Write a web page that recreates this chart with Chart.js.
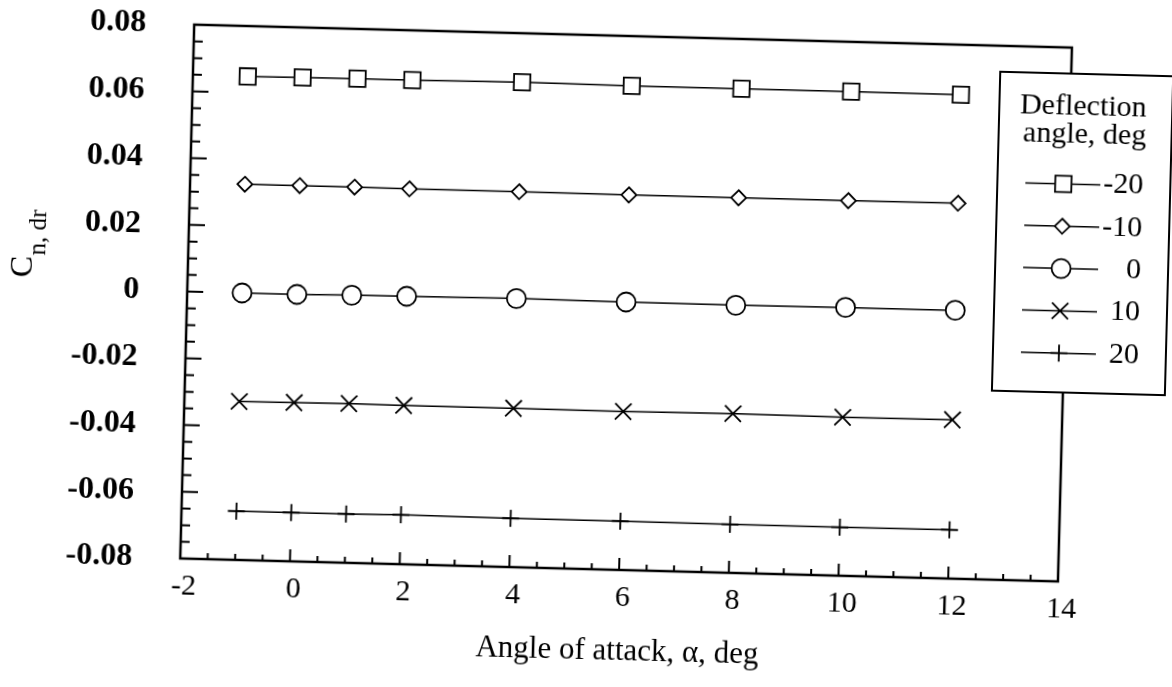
<!DOCTYPE html>
<html>
<head>
<meta charset="utf-8">
<title>Cn,dr vs angle of attack</title>
<script src="https://cdn.jsdelivr.net/npm/chart.js@4.4.1/dist/chart.umd.min.js"></script>
<style>
  html, body { margin: 0; padding: 0; background: #fff; overflow: hidden; }
  /* la figura escaneada esta ligeramente girada */
  #wrap { width: 1172px; height: 687px; transform: rotate(1.5deg); }
</style>
</head>
<body>
<div id="wrap"><canvas id="grafico" width="1172" height="687"></canvas></div>
<script>
const alpha = [-1, 0, 1, 2, 4, 6, 8, 10, 12];
const cnMenos20 = [0.0649, 0.0650, 0.0651, 0.0651, 0.0653, 0.0651, 0.0651, 0.0651, 0.0650];
const cnMenos10 = [0.0326, 0.0326, 0.0326, 0.0325, 0.0325, 0.0324, 0.0324, 0.0324, 0.0325];
const cnCero = [0.0000, 0.0000, 0.0002, 0.0003, 0.0005, 0.0003, 0.0002, 0.0004, 0.0004];
const cnMas10 = [-0.0325, -0.0324, -0.0323, -0.0324, -0.0324, -0.0325, -0.0323, -0.0325, -0.0324];
const cnMas20 = [-0.0654, -0.0654, -0.0654, -0.0652, -0.0654, -0.0654, -0.0655, -0.0655, -0.0654];
const deflexiones = ["-20", "-10", "0", "10", "20"];
const xTicks = [-2, 0, 2, 4, 6, 8, 10, 12, 14];
const yTicks = [-0.08, -0.06, -0.04, -0.02, 0, 0.02, 0.04, 0.06, 0.08];

const fuente = "'Liberation Serif', 'Times New Roman', serif";
Chart.defaults.font.family = fuente;
Chart.defaults.color = "#000";

function serie(label, valores, estilo, radio) {
  return {
    label: label,
    data: alpha.map((a, i) => ({ x: a, y: valores[i] })),
    borderColor: "#000",
    borderWidth: 1.5,
    pointStyle: estilo,
    pointRadius: radio,
    pointHoverRadius: radio,
    pointBorderColor: "#000",
    pointBackgroundColor: "#fff",
    pointBorderWidth: 1.8,
    tension: 0,
  };
}

// marco y marcas hacia dentro
const marco = {
  id: "marco",
  afterDraw(chart) {
    const { ctx, chartArea: a, scales } = chart;
    const x = scales.x, y = scales.y;
    ctx.save();
    ctx.strokeStyle = "#000";
    ctx.lineWidth = 2.5;
    ctx.strokeRect(a.left, a.top, a.right - a.left, a.bottom - a.top);
    ctx.lineWidth = 2;
    ctx.beginPath();
    for (let i = -16; i <= 16; i++) {
      const py = y.getPixelForValue(i * 0.005);
      const largo = i % 4 === 0 ? 16 : 9;
      ctx.moveTo(a.left, py);
      ctx.lineTo(a.left + largo, py);
    }
    for (let i = -4; i <= 28; i++) {
      const px = x.getPixelForValue(i * 0.5);
      const largo = i % 4 === 0 ? 12 : 6;
      ctx.moveTo(px, a.bottom);
      ctx.lineTo(px, a.bottom - largo);
    }
    ctx.stroke();

    // titulos de ejes
    ctx.fillStyle = "#000";
    ctx.font = "31px " + fuente;
    ctx.textAlign = "center";
    ctx.textBaseline = "alphabetic";
    ctx.fillText("Angle of attack, \u03b1, deg", (a.left + a.right) / 2, 659);

    ctx.translate(30, 292);
    ctx.rotate(-Math.PI / 2);
    ctx.textAlign = "left";
    ctx.font = "32px " + fuente;
    ctx.fillText("C", 0, 0);
    const w = ctx.measureText("C").width;
    ctx.font = "25px " + fuente;
    ctx.fillText("n, dr", w + 1, 13);
    ctx.restore();
  },
};

// leyenda con caja
const leyenda = {
  id: "leyenda",
  afterDraw(chart) {
    const ctx = chart.ctx;
    ctx.save();
    ctx.fillStyle = "#fff";
    ctx.strokeStyle = "#000";
    ctx.lineWidth = 2;
    ctx.fillRect(993, 61, 173, 319);
    ctx.strokeRect(993, 61, 173, 319);
    ctx.fillStyle = "#000";
    ctx.font = "30px " + fuente;
    ctx.textAlign = "center";
    ctx.textBaseline = "alphabetic";
    ctx.fillText("Deflection", 1077, 102);
    ctx.fillText("angle, deg", 1079, 130);
    chart.data.datasets.forEach((ds, i) => {
      const yy = 171.5 + i * 42.3;
      ctx.lineWidth = 1.5;
      ctx.strokeStyle = "#000";
      ctx.beginPath();
      ctx.moveTo(1021, yy);
      ctx.lineTo(1096, yy);
      ctx.stroke();
      ctx.fillStyle = "#fff";
      ctx.lineWidth = ds.pointBorderWidth;
      Chart.helpers.drawPoint(ctx, { pointStyle: ds.pointStyle, radius: ds.pointRadius, borderWidth: ds.pointBorderWidth, rotation: 0 }, 1059, yy);
      ctx.fillStyle = "#000";
      ctx.textAlign = "right";
      ctx.textBaseline = "middle";
      ctx.fillText(ds.label, 1139, yy);
    });
    ctx.restore();
  },
};

new Chart(document.getElementById("grafico"), {
  type: "line",
  data: {
    datasets: [
      serie(deflexiones[0], cnMenos20, "rect", 11.5),
      serie(deflexiones[1], cnMenos10, "rectRot", 7.5),
      serie(deflexiones[2], cnCero, "circle", 9.5),
      serie(deflexiones[3], cnMas10, "crossRot", 11.5),
      serie(deflexiones[4], cnMas20, "cross", 8.5),
    ],
  },
  options: {
    responsive: false,
    animation: false,
    layout: { padding: { left: 0, top: 35, right: 108, bottom: 0 } },
    plugins: { legend: { display: false }, tooltip: { enabled: false } },
    scales: {
      x: {
        type: "linear",
        min: -2,
        max: 14,
        afterBuildTicks: (s) => { s.ticks = xTicks.map((v) => ({ value: v })); },
        afterFit: (s) => { s.height = 687 - 569; s.paddingLeft = 0; s.paddingRight = 0; },
        grid: { display: false },
        border: { display: false },
        ticks: { font: { size: 30 }, padding: 2, labelOffset: 4, maxRotation: 0, callback: (v) => String(v) },
      },
      y: {
        min: -0.08,
        max: 0.08,
        afterBuildTicks: (s) => { s.ticks = yTicks.map((v) => ({ value: v })); },
        afterFit: (s) => { s.width = 186; s.paddingTop = 0; s.paddingBottom = 0; },
        grid: { display: false },
        border: { display: false },
        ticks: {
          font: { size: 32, weight: "bold" },
          padding: 40,
          callback: (v) => (Math.abs(v) < 1e-9 ? "0" : v.toFixed(2)),
        },
      },
    },
  },
  plugins: [marco, leyenda],
});
</script>
</body>
</html>
